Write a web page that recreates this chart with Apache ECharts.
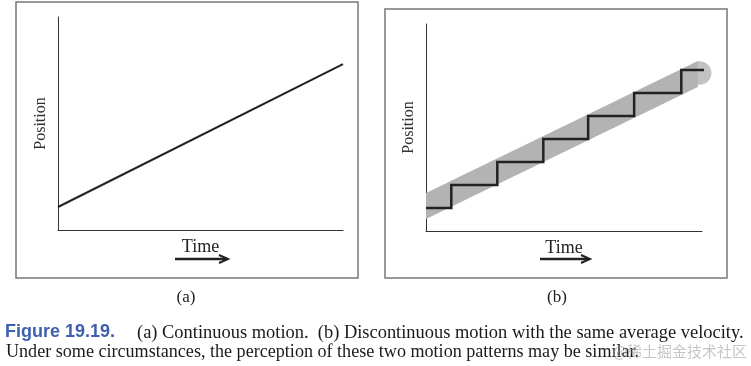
<!DOCTYPE html>
<html><head><meta charset="utf-8">
<script src="https://cdn.jsdelivr.net/npm/echarts@6/dist/echarts.min.js"></script>
<style>html,body{margin:0;padding:0;background:#fff}#c{width:751px;height:366px}</style>
</head><body><div id="c"></div>
<script>
// Panel (a): continuous motion (time, position)
const continuousMotion = [[0, 1.08], [10, 7.79]];
// Panel (b): discontinuous (stepped) motion, same average velocity
const steppedMotion = [[0,1],[1.1,1],[1.1,2],[3.1,2],[3.1,3],[5.1,3],[5.1,4],[7.05,4],[7.05,5],[9.05,5],[9.05,6],[11.1,6],[11.1,7],[12.1,7]];
// Average-velocity band underlying the steps: [xStart, centerStart, xEnd, centerEnd, verticalThickness]
const averageBand = [[0, 1.09, 11.82, 6.83, 1.13]];
const bandEnd = [[11.9, 6.87]];
const axisNames = { x: 'Time', y: 'Position' };
const panelLabels = ['(a)', '(b)'];
const captionFig = 'Figure 19.19.';
const captionLine1 = '(a) Continuous motion.  (b) Discontinuous motion with the same average velocity.';
const captionLine2 = 'Under some circumstances, the perception of these two motion patterns may be similar.';
const watermark = '@稀土掘金技术社区';

const serif = '"Liberation Serif", "DejaVu Serif", serif';
const axisColor = '#333';
const bandColor = '#b3b3b3';
function xAx(idx){return {type:'value', gridIndex:idx, min:0, max: idx===0?10:12,
  axisLine:{show:true,onZero:false,lineStyle:{color:axisColor,width:1}}, axisTick:{show:false}, axisLabel:{show:false}, splitLine:{show:false},
  name:axisNames.x, nameLocation:'middle', nameGap:8, nameTextStyle:{fontFamily:serif,fontSize:18,color:'#222',verticalAlign:'top'}};}
function yAx(idx){return {type:'value', gridIndex:idx, min:0, max: idx===0?10:9,
  axisLine:{show:true,onZero:false,lineStyle:{color:axisColor,width:1}}, axisTick:{show:false}, axisLabel:{show:false}, splitLine:{show:false},
  name:axisNames.y, nameLocation:'middle', nameGap:9, nameRotate:90, nameTextStyle:{fontFamily:serif,fontSize:16,color:'#333'}};}

function arrow(x1,x2,y){
  return {type:'group', children:[
    {type:'line', shape:{x1:x1,y1:y,x2:x2-2,y2:y}, style:{stroke:'#222',lineWidth:2.5}},
    {type:'polyline', shape:{points:[[x2-9,y-4],[x2,y],[x2-9,y+4]]}, style:{stroke:'#222',lineWidth:2,fill:null}}
  ]};
}

const chart = echarts.init(document.getElementById('c'), null, {renderer:'canvas'});
chart.setOption({
  backgroundColor:'#fff',
  animation:false,
  grid:[
    {left:58, right:408, top:17, bottom:136},
    {left:426, right:49, top:24, bottom:135}
  ],
  xAxis:[xAx(0), xAx(1)],
  yAxis:[yAx(0), yAx(1)],
  series:[
    {type:'line', xAxisIndex:0, yAxisIndex:0, data:continuousMotion, symbol:'none', lineStyle:{color:'#222',width:2}, z:3},
    {type:'custom', xAxisIndex:1, yAxisIndex:1, data:averageBand, z:2, clip:false,
      encode:{x:[0,2], y:[1,3]},
      renderItem:function(params, api){
        const x0=api.value(0), c0=api.value(1), x1=api.value(2), c1=api.value(3), h=api.value(4);
        const pts=[api.coord([x0,c0+h/2]), api.coord([x1,c1+h/2]), api.coord([x1,c1-h/2]), api.coord([x0,c0-h/2])];
        return {type:'polygon', shape:{points:pts}, style:{fill:bandColor}};
      }},
    {type:'scatter', xAxisIndex:1, yAxisIndex:1, data:bandEnd, symbol:'circle', symbolSize:23.5, clip:false, itemStyle:{color:bandColor}, z:2},
    {type:'line', xAxisIndex:1, yAxisIndex:1, data:steppedMotion, symbol:'none', clip:false, lineStyle:{color:'#222',width:2.5,join:'miter'}, z:4}
  ],
  graphic:[
    {type:'rect', shape:{x:16,y:2,width:342,height:276}, style:{fill:null,stroke:'#777',lineWidth:1.5}, z:-1},
    {type:'rect', shape:{x:385,y:9,width:342,height:269}, style:{fill:null,stroke:'#777',lineWidth:1.5}, z:-1},
    arrow(175,228,259),
    arrow(540,590,259),
    {type:'text', x:186, y:298, style:{text:panelLabels[0], font:'17px '+serif, fill:'#222', align:'center', verticalAlign:'middle'}},
    {type:'text', x:557, y:298, style:{text:panelLabels[1], font:'17px '+serif, fill:'#222', align:'center', verticalAlign:'middle'}},
    {type:'text', x:5, y:332, style:{text:captionFig, font:'bold 18px "Liberation Sans", Arial, sans-serif', fill:'#3e5fad', align:'left', verticalAlign:'middle'}},
    {type:'text', x:137, y:333, style:{text:captionLine1, font:'18.45px '+serif, fill:'#1a1a1a', align:'left', verticalAlign:'middle'}},
    {type:'text', x:6, y:352, style:{text:captionLine2, font:'18.1px '+serif, fill:'#1a1a1a', align:'left', verticalAlign:'middle'}},
    {type:'text', x:747, y:351, style:{text:watermark, font:'15px "Noto Sans CJK SC", sans-serif', fill:'rgba(160,160,160,0.6)', align:'right', verticalAlign:'middle'}, z:10}
  ]
});
</script></body></html>
